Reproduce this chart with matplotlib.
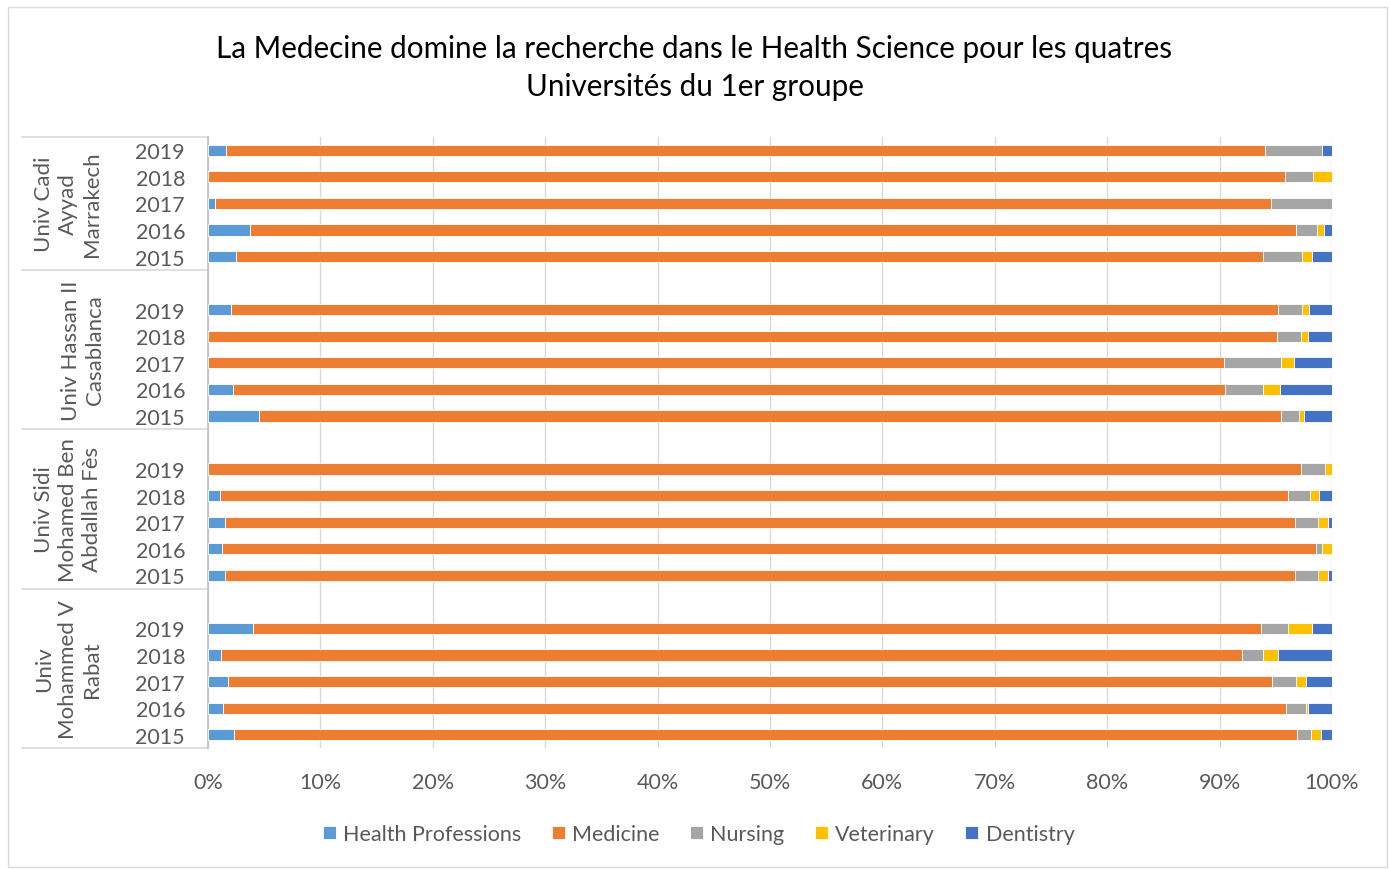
import matplotlib.pyplot as plt
import matplotlib.transforms as mtransforms
from matplotlib.patches import Rectangle
from matplotlib.lines import Line2D
import numpy as np

plt.rcParams['font.family'] = ['Lato', 'DejaVu Sans']

# ------------------------------------------------------
# Data (percent share, rows listed top to bottom, 2019 -> 2015)
# ------------------------------------------------------
universities = [
    "Univ Cadi\nAyyad\nMarrakech",
    "Univ Hassan II\nCasablanca",
    "Univ Sidi\nMohamed Ben\nAbdallah Fès",
    "Univ\nMohammed V\nRabat",
]
years = ["2019", "2018", "2017", "2016", "2015"]
series = ["Health Professions", "Medicine", "Nursing", "Veterinary", "Dentistry"]
colors = ["#5B9BD5", "#ED7D31", "#A5A5A5", "#FFC000", "#4472C4"]

health_prof = [1.6, 0.0, 0.6, 3.7, 2.5,
               2.0, 0.0, 0.0, 2.25, 4.5,
               0.0, 1.07, 1.54, 1.22, 1.54,
               4.0, 1.2, 1.8, 1.35, 2.3]
medicine = [92.4, 95.7, 94.0, 93.0, 91.4,
            93.1, 95.05, 90.4, 88.2, 90.9,
            97.25, 95.0, 95.2, 97.4, 95.2,
            89.75, 90.8, 92.9, 94.55, 94.6]
nursing = [5.1, 2.5, 5.4, 1.9, 3.45,
           2.1, 2.1, 5.1, 3.45, 1.65,
           2.15, 1.95, 2.0, 0.5, 2.0,
           2.4, 1.85, 2.1, 1.7, 1.25]
veterinary = [0.0, 1.7, 0.0, 0.6, 0.9,
              0.7, 0.7, 1.1, 1.5, 0.4,
              0.6, 0.8, 0.85, 0.9, 0.85,
              2.1, 1.35, 0.9, 0.25, 0.85]
dentistry = [0.9, 0.0, 0.0, 0.7, 1.75,
             2.0, 2.1, 3.4, 4.6, 2.5,
             0.0, 1.2, 0.4, 0.0, 0.4,
             1.8, 4.8, 2.3, 2.1, 1.0]

values = np.array([health_prof, medicine, nursing, veterinary, dentistry])
values = values / values.sum(axis=0) * 100

# slot positions: first group has no blank slot, later groups start with one
pos = []
slot = 0
for g in range(len(universities)):
    if g > 0:
        slot += 1
    for y in years:
        pos.append(slot)
        slot += 1
pos = np.array(pos)
nslots = slot

# ------------------------------------------------------
# Plot
# ------------------------------------------------------
W, H = 1389, 870
fig = plt.figure(figsize=(W / 100, H / 100), dpi=100)
ax = fig.add_axes([208 / W, 1 - 749 / H, 1124 / W, 611 / H])

left = np.zeros(len(pos))
for vals, name, col in zip(values, series, colors):
    ax.barh(pos, vals, left=left, height=0.42, color=col, label=name,
            edgecolor="white", linewidth=0.6, zorder=3)
    left += vals

ax.set_xlim(0, 100)
ax.set_ylim(nslots - 0.5, -0.5)
ax.set_xticks(np.arange(0, 101, 10))
ax.set_xticklabels([f"{t}%" for t in range(0, 101, 10)])
ax.xaxis.grid(True, color="#D9D9D9", linewidth=1, zorder=0)
ax.tick_params(axis="x", length=0, labelsize=15.5, colors="#595959", pad=17)
ax.set_yticks(pos)
ax.set_yticklabels(years * len(universities), fontsize=15.5, color="#595959")
ax.tick_params(axis="y", length=0, pad=16.5)
for s in ["top", "right", "bottom"]:
    ax.spines[s].set_visible(False)
ax.spines["left"].set_color("#BFBFBF")
ax.spines["left"].set_linewidth(1.2)

# group labels and separators
trans = mtransforms.blended_transform_factory(ax.transAxes, ax.transData)
x_line = (22 - 208) / 1124
bounds = [-0.5]
for g, uni in enumerate(universities):
    rows = pos[g * len(years):(g + 1) * len(years)]
    bounds.append(rows[-1] + 0.5)
    first = rows[0] - (1 if g > 0 else 0)
    yc = (first - 0.5 + rows[-1] + 0.5) / 2
    xc = 68 if g != 1 else 83
    ax.text((xc - 208) / 1124, yc, uni,
            transform=trans, rotation=90, ha="center", va="center",
            fontsize=16, color="#595959", linespacing=1.25)
for b in bounds:
    ax.add_line(Line2D([x_line, 0], [b, b], transform=trans, color="#D9D9D9",
                       linewidth=1.2, clip_on=False))

# legend
fig.legend(loc="center", bbox_to_anchor=(0.503, 1 - 835 / H), ncol=5,
           frameon=False, fontsize=15.5, handlelength=0.6, handleheight=0.6,
           handletextpad=0.35, columnspacing=1.4, labelcolor="#595959")

fig.suptitle("La Medecine domine la recherche dans le Health Science pour les quatres\n"
             "Universités du 1er groupe",
             x=0.5, y=1 - 35 / H, va="top", fontsize=21.3, color="#000000",
             linespacing=1.45)

fig.add_artist(Rectangle((8 / W, 2 / H), 1379 / W, 860 / H, transform=fig.transFigure,
                         fill=False, edgecolor="#D9D9D9", linewidth=1))

fig.savefig("out.png", dpi=100)
